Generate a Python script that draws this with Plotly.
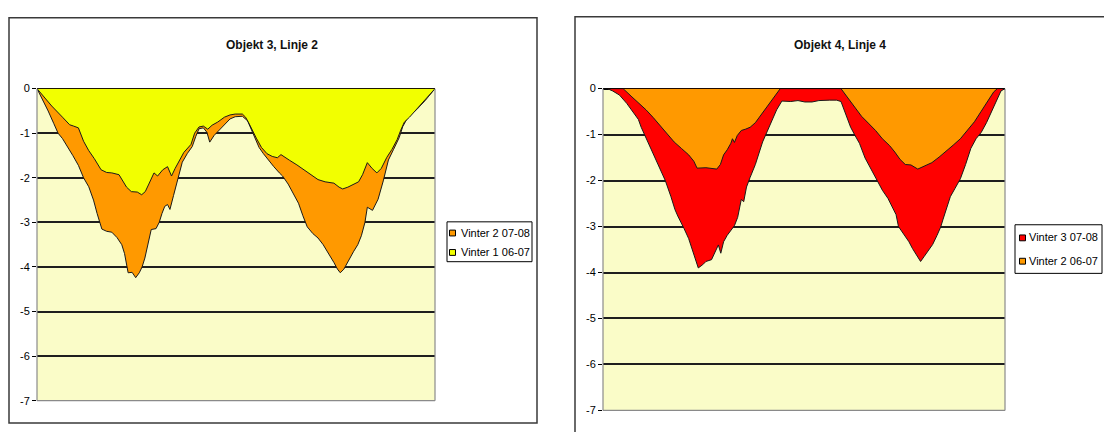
import plotly.graph_objects as go

# ---- Objekt 3, Linje 2: profile position (0-100) and settlement values ----
o3_v2_x = [0, 1.5, 2.8, 4.2, 5.3, 6.4, 7.7, 9.0, 10.4, 11.7, 13.0, 14.2, 15.1, 15.7, 16.3, 17.5, 18.8, 20.1,
           21.3, 22.0, 22.5, 22.9, 23.9, 24.8, 25.7, 26.4, 27.1, 27.6, 28.2, 28.7, 29.9, 30.7, 31.4, 32.1,
           32.8, 33.4, 34.3, 35.2, 36.5, 37.8, 39.0, 39.9, 40.7, 41.8, 42.7, 43.4, 44.5, 45.8, 47.1, 48.5,
           49.8, 51.6, 52.9, 53.8, 54.7, 55.8, 56.9, 58.2, 59.5, 60.9, 61.7, 63.1, 64.4, 65.7, 66.8, 67.9,
           69.3, 70.6, 71.9, 73.3, 74.6, 75.5, 76.2, 77.1, 78.1, 79.5, 80.6, 81.5, 82.4, 83.0, 84.3, 85.7,
           87.0, 88.3, 89.6, 91.0, 91.9, 93.2, 95.4, 97.6, 100]
o3_v2_y = [0, -0.25, -0.5, -0.78, -1.0, -1.12, -1.3, -1.5, -1.72, -2.0, -2.2, -2.5, -2.8, -3.0, -3.15, -3.2,
           -3.22, -3.34, -3.5, -3.7, -3.95, -4.13, -4.12, -4.24, -4.13, -4.0, -3.8, -3.6, -3.35, -3.16,
           -3.14, -3.0, -2.8, -2.64, -2.6, -2.71, -2.4, -2.07, -1.65, -1.45, -1.3, -1.07, -0.9, -0.88,
           -0.98, -1.2, -1.05, -0.93, -0.8, -0.68, -0.63, -0.62, -0.72, -0.9, -1.1, -1.32, -1.46, -1.61,
           -1.75, -1.89, -1.96, -2.14, -2.36, -2.57, -2.85, -3.1, -3.25, -3.35, -3.5, -3.7, -3.9, -4.05,
           -4.13, -4.05, -3.88, -3.66, -3.5, -3.3, -3.0, -2.66, -2.73, -2.48, -2.07, -1.6, -1.36, -1.1,
           -0.85, -0.64, -0.47, -0.26, 0]

o3_v1_x = [0, 3.7, 6.4, 8.2, 9.2, 10.4, 11.7, 13.0, 14.4, 16.1, 17.5, 18.8, 20.6, 21.4, 22.5, 23.7, 25.2,
           26.3, 27.2, 28.1, 29.4, 30.3, 31.6, 32.8, 33.8, 34.7, 35.8, 36.9, 38.7, 39.6, 40.7, 41.8, 42.9,
           44.0, 45.4, 47.1, 48.5, 49.8, 51.6, 52.4, 53.1, 54.0, 55.1, 56.4, 57.8, 59.1, 60.4, 61.3, 62.2,
           63.5, 65.3, 67.1, 68.8, 70.6, 72.4, 74.6, 75.9, 76.8, 78.1, 79.5, 80.8, 81.8, 83.0, 84.2, 85.4,
           86.5, 87.9, 89.2, 90.5, 91.4, 92.3, 93.6, 95.4, 97.6, 100]
o3_v1_y = [0, -0.39, -0.64, -0.81, -0.84, -0.88, -1.18, -1.39, -1.57, -1.82, -1.88, -1.89, -1.93, -2.04,
           -2.21, -2.31, -2.32, -2.38, -2.31, -2.14, -1.89, -1.96, -1.82, -1.75, -1.96, -1.79, -1.61, -1.43,
           -1.25, -1.0, -0.86, -0.84, -0.91, -0.82, -0.75, -0.64, -0.59, -0.57, -0.57, -0.64, -0.75, -0.93,
           -1.11, -1.32, -1.46, -1.52, -1.55, -1.48, -1.54, -1.61, -1.71, -1.82, -1.93, -2.04, -2.09, -2.12,
           -2.21, -2.25, -2.21, -2.14, -2.09, -1.93, -1.66, -1.79, -1.89, -1.79, -1.54, -1.36, -1.14, -0.93,
           -0.75, -0.64, -0.46, -0.25, 0]

# ---- Objekt 4, Linje 4 ----
o4_v3_x = [0, 1.1, 2.4, 4.1, 5.9, 7.6, 8.8, 9.5, 10.3, 11.6, 12.9, 14.2, 15.5, 16.9, 17.9, 18.6, 19.5, 20.2,
           21.3, 22.1, 23.0, 23.7, 24.8, 25.6, 27.0, 27.8, 28.7, 29.3, 30.0, 30.9, 31.8, 32.7, 33.5, 34.0,
           34.4, 35.0, 35.7, 36.6, 37.9, 39.7, 41.4, 43.2, 44.5, 46.7, 48.5, 50.2, 52.0, 53.7, 56.4, 58.1,
           59.2, 60.3, 61.6, 62.7, 63.8, 65.2, 66.9, 68.2, 69.5, 70.9, 72.0, 72.9, 73.5, 74.4, 75.2, 76.1,
           77.0, 77.9, 79.0, 79.9, 81.0, 82.0, 83.1, 84.0, 84.6, 85.3, 86.4, 87.5, 88.9, 90.2, 91.5, 92.8,
           94.1, 95.4, 96.8, 97.8, 99.0, 100]
o4_v3_y = [0, 0, -0.05, -0.14, -0.32, -0.53, -0.67, -0.84, -1.0, -1.23, -1.51, -1.75, -2.0, -2.35, -2.63,
           -2.77, -2.91, -3.05, -3.26, -3.48, -3.69, -3.9, -3.83, -3.76, -3.72, -3.55, -3.4, -3.58, -3.33,
           -3.19, -3.09, -2.98, -2.8, -2.56, -2.41, -2.46, -2.14, -1.93, -1.65, -1.16, -0.81, -0.46, -0.27,
           -0.28, -0.26, -0.29, -0.29, -0.26, -0.25, -0.25, -0.28, -0.53, -0.84, -1.02, -1.19, -1.51, -1.79,
           -2.0, -2.21, -2.39, -2.6, -2.74, -3.0, -3.12, -3.23, -3.33, -3.48, -3.6, -3.76, -3.65, -3.51,
           -3.39, -3.19, -3.01, -2.84, -2.63, -2.35, -2.18, -1.96, -1.65, -1.3, -1.09, -0.95, -0.74, -0.46,
           -0.25, -0.05, 0]

o4_v2_x = [0, 5.0, 7.2, 9.0, 10.7, 12.5, 14.2, 16.0, 17.7, 19.5, 21.3, 22.6, 23.4, 25.6, 28.3, 29.2, 30.0,
           30.9, 31.8, 32.2, 32.7, 33.4, 34.4, 35.5, 36.6, 37.9, 39.7, 41.4, 43.2, 44.1, 59.2, 60.8, 62.5,
           64.3, 66.0, 67.8, 69.5, 71.3, 72.6, 73.9, 75.2, 76.6, 78.3, 80.1, 81.8, 83.6, 85.3, 87.1, 88.9,
           90.6, 92.4, 94.1, 95.9, 97.2, 98.1, 100]
o4_v2_y = [0, 0, -0.18, -0.32, -0.46, -0.63, -0.81, -0.98, -1.16, -1.3, -1.44, -1.58, -1.73, -1.72, -1.75,
           -1.65, -1.44, -1.33, -1.19, -1.09, -1.17, -1.02, -0.91, -0.88, -0.84, -0.74, -0.53, -0.32, -0.12,
           0, 0, -0.18, -0.39, -0.6, -0.75, -0.91, -1.09, -1.24, -1.38, -1.54, -1.65, -1.66, -1.75, -1.68,
           -1.61, -1.49, -1.37, -1.23, -1.09, -0.91, -0.72, -0.49, -0.25, -0.07, 0, 0]

titles = ["Objekt 3, Linje 2", "Objekt 4, Linje 4"]
names_left = ["Vinter 2 07-08", "Vinter 1 06-07"]
names_right = ["Vinter 3 07-08", "Vinter 2 06-07"]
y_ticks = [0, -1, -2, -3, -4, -5, -6, -7]
y_labels = ["0", "-1", "-2", "-3", "-4", "-5", "-6", "-7"]

YELLOW = "#F2FF00"
ORANGE = "#FF9900"
RED = "#FF0000"
PLOT_BG = "#FAFCC8"
OUTLINE = "#1a1a1a"
FONT = "Liberation Sans, Arial, sans-serif"

W, H = 1104, 432


def fx(p):
    return p / W


def fy(p):
    return 1 - p / H


fig = go.Figure()


def area(x, y, color, xa, ya):
    fig.add_trace(go.Scatter(
        x=x, y=y, mode="lines", fill="tozeroy", fillcolor=color,
        line=dict(color=OUTLINE, width=1), xaxis=xa, yaxis=ya,
        showlegend=False, hoverinfo="skip"))


area(o3_v2_x, o3_v2_y, ORANGE, "x", "y")
area(o3_v1_x, o3_v1_y, YELLOW, "x", "y")
area(o4_v3_x, o4_v3_y, RED, "x2", "y2")
area(o4_v2_x, o4_v2_y, ORANGE, "x2", "y2")

yaxis_style = dict(
    range=[-7, 0], tickvals=y_ticks, ticktext=y_labels, ticks="outside", ticklen=4,
    tickcolor="#000", tickwidth=1, showgrid=True, gridcolor="#1e1e1e", gridwidth=1.5,
    zeroline=True, zerolinecolor="#000", zerolinewidth=2, showline=False,
    tickfont=dict(family=FONT, size=11, color="#000"), fixedrange=True,
)
xaxis_style = dict(range=[0, 100], visible=False, fixedrange=True)

# panel geometry in pixels: (left, top, right, bottom) of each plot area
plot_left = (37, 85, 435, 406)
plot_right = (603, 85, 1005, 416)

fig.update_layout(
    width=W, height=H, margin=dict(l=0, r=0, t=0, b=0),
    paper_bgcolor="white", plot_bgcolor=PLOT_BG, showlegend=False,
    xaxis=dict(domain=[fx(plot_left[0]), fx(plot_left[2])], anchor="y", **xaxis_style),
    yaxis=dict(domain=[fy(plot_left[3]), fy(plot_left[1])], anchor="x", **yaxis_style),
    xaxis2=dict(domain=[fx(plot_right[0]), fx(plot_right[2])], anchor="y2", **xaxis_style),
    yaxis2=dict(domain=[fy(plot_right[3]), fy(plot_right[1])], anchor="x2", **yaxis_style),
)

shapes = []
# chart frames
shapes.append(dict(type="rect", xref="paper", yref="paper", x0=fx(9), y0=fy(429), x1=fx(537), y1=fy(12),
                   line=dict(color="#3a3a3a", width=1.5), fillcolor="rgba(0,0,0,0)", layer="below"))
shapes.append(dict(type="rect", xref="paper", yref="paper", x0=fx(575), y0=fy(445), x1=fx(1120), y1=fy(11),
                   line=dict(color="#3a3a3a", width=1.5), fillcolor="rgba(0,0,0,0)", layer="below"))

# plot-area border (grey) on left, right and bottom sides
for (l, t, r, b) in (plot_left, plot_right):
    for (x0, y0, x1, y1) in ((l, t, l, b), (r, t, r, b), (l, b, r, b)):
        shapes.append(dict(type="line", xref="paper", yref="paper", x0=fx(x0), y0=fy(y0), x1=fx(x1), y1=fy(y1),
                           line=dict(color="#8a8a8a", width=1.2), layer="above"))

annotations = []
# titles
for title, cx in zip(titles, (272, 840)):
    annotations.append(dict(text="<b>%s</b>" % title, xref="paper", yref="paper", x=fx(cx), y=fy(40),
                            xanchor="center", yanchor="middle", showarrow=False,
                            font=dict(family=FONT, size=12, color="#111")))


def legend_box(box, names, colors, rows, sq_left, text_left):
    l, t, r, b = box
    shapes.append(dict(type="rect", xref="paper", yref="paper", x0=fx(l), y0=fy(b), x1=fx(r), y1=fy(t),
                       line=dict(color="#000", width=1), fillcolor="white", layer="above"))
    for name, color, yc in zip(names, colors, rows):
        shapes.append(dict(type="rect", xref="paper", yref="paper", x0=fx(sq_left), y0=fy(yc + 3.5),
                           x1=fx(sq_left + 6), y1=fy(yc - 2.5), line=dict(color="#000", width=1),
                           fillcolor=color, layer="above"))
        annotations.append(dict(text=name, xref="paper", yref="paper", x=fx(text_left), y=fy(yc),
                                xanchor="left", yanchor="middle", showarrow=False,
                                font=dict(family=FONT, size=11, color="#000")))


legend_box((447, 222, 532, 263), names_left, [ORANGE, YELLOW], (233, 253), 449.5, 459)
legend_box((1015, 225, 1102, 275), names_right, [RED, ORANGE], (238, 262), 1019.5, 1027)

fig.update_layout(shapes=shapes, annotations=annotations)
fig.write_html("out.html")
